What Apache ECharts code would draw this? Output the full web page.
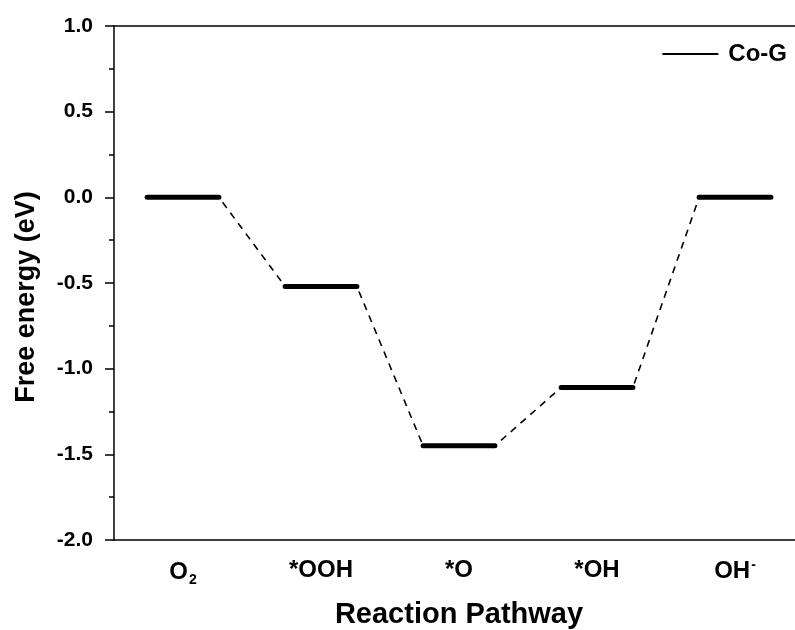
<!DOCTYPE html>
<html>
<head>
<meta charset="utf-8">
<script src="https://cdn.jsdelivr.net/npm/echarts@6/dist/echarts.min.js"></script>
<style>html,body{margin:0;padding:0;background:#fff}#c{width:795px;height:630px}</style>
</head>
<body>
<div id="c"></div>
<script>
var categories = ['O2', '*OOH', '*O', '*OH', 'OH-'];
var energies = [0, -0.52, -1.45, -1.11, 0];
var seriesName = 'Co-G';
var yTicks = [-2.0, -1.5, -1.0, -0.5, 0.0, 0.5, 1.0];

var HALF = 0.26;
var FONT = 'Liberation Sans, Arial, sans-serif';

var dashedPts = [];
energies.forEach(function (v, i) {
  dashedPts.push([i - HALF, v]);
  dashedPts.push([i + HALF, v]);
});

var series = [{
  name: 'path',
  type: 'line',
  xAxisIndex: 1,
  data: dashedPts,
  symbol: 'none',
  silent: true,
  lineStyle: { color: '#000', width: 1.6, type: [7, 6] },
  z: 1
}];
energies.forEach(function (v, i) {
  series.push({
    name: i === 0 ? seriesName : 'lvl' + i,
    type: 'line',
    xAxisIndex: 1,
    data: [[i - HALF, v], [i + HALF, v]],
    symbol: 'none',
    lineStyle: { color: '#000', width: 5, cap: 'round' },
    itemStyle: { color: '#000' },
    z: 3
  });
});

function catLabel(v) {
  if (v === 'O2') return '{b|O}{s|2}';
  if (v === 'OH-') return '{b|OH}{p|-}';
  return '{b|' + v + '}';
}

var option = {
  animation: false,
  backgroundColor: '#fff',
  grid: { left: 114, top: 26, right: -9, bottom: 90, containLabel: false, outerBoundsMode: 'none' },
  legend: {
    data: [{ name: seriesName, icon: 'rect' }],
    right: 3, top: 37,
    itemWidth: 56, itemHeight: 2,
    textStyle: { fontFamily: FONT, fontWeight: 'bold', fontSize: 24, color: '#000', padding: [0, 0, 0, 5] }
  },
  xAxis: [{
    type: 'category',
    data: categories,
    boundaryGap: true,
    position: 'bottom',
    name: 'Reaction Pathway',
    nameLocation: 'middle',
    nameGap: 60,
    nameTextStyle: { fontFamily: FONT, fontWeight: 'bold', fontSize: 29, color: '#000' },
    axisLine: { onZero: false, lineStyle: { color: '#000', width: 1.5 } },
    axisTick: { alignWithLabel: true, length: 9, lineStyle: { color: '#000', width: 1.5 } },
    axisLabel: {
      margin: 18,
      formatter: catLabel,
      rich: {
        b: { fontFamily: FONT, fontWeight: 'bold', fontSize: 24, color: '#000' },
        s: { fontFamily: FONT, fontWeight: 'bold', fontSize: 14, color: '#000', padding: [15, 0, 0, 1] },
        p: { fontFamily: FONT, fontWeight: 'bold', fontSize: 14, color: '#000', padding: [0, 0, 13, 1] }
      }
    },
    splitLine: { show: false }
  }, {
    type: 'value',
    min: -0.5, max: 4.5,
    position: 'top',
    axisLine: { show: true, onZero: false, lineStyle: { color: '#000', width: 1.5 } },
    axisTick: { show: false },
    axisLabel: { show: false },
    splitLine: { show: false }
  }],
  yAxis: {
    type: 'value',
    min: yTicks[0], max: yTicks[yTicks.length - 1], interval: 0.5,
    name: 'Free energy (eV)',
    nameLocation: 'middle',
    nameGap: 74,
    nameTextStyle: { fontFamily: FONT, fontWeight: 'bold', fontSize: 27, color: '#000', padding: [0, 28, 0, 0] },
    axisLine: { show: true, onZero: false, lineStyle: { color: '#000', width: 1.5 } },
    axisTick: { show: true, length: 9, lineStyle: { color: '#000', width: 1.5 } },
    minorTick: { show: true, splitNumber: 2, length: 5, lineStyle: { color: '#000', width: 1.5 } },
    axisLabel: {
      margin: 21,
      fontFamily: FONT, fontWeight: 'bold', fontSize: 21, color: '#000',
      formatter: function (v) { return v.toFixed(1); }
    },
    splitLine: { show: false }
  },
  series: series
};
echarts.init(document.getElementById('c')).setOption(option);
</script>
</body>
</html>
